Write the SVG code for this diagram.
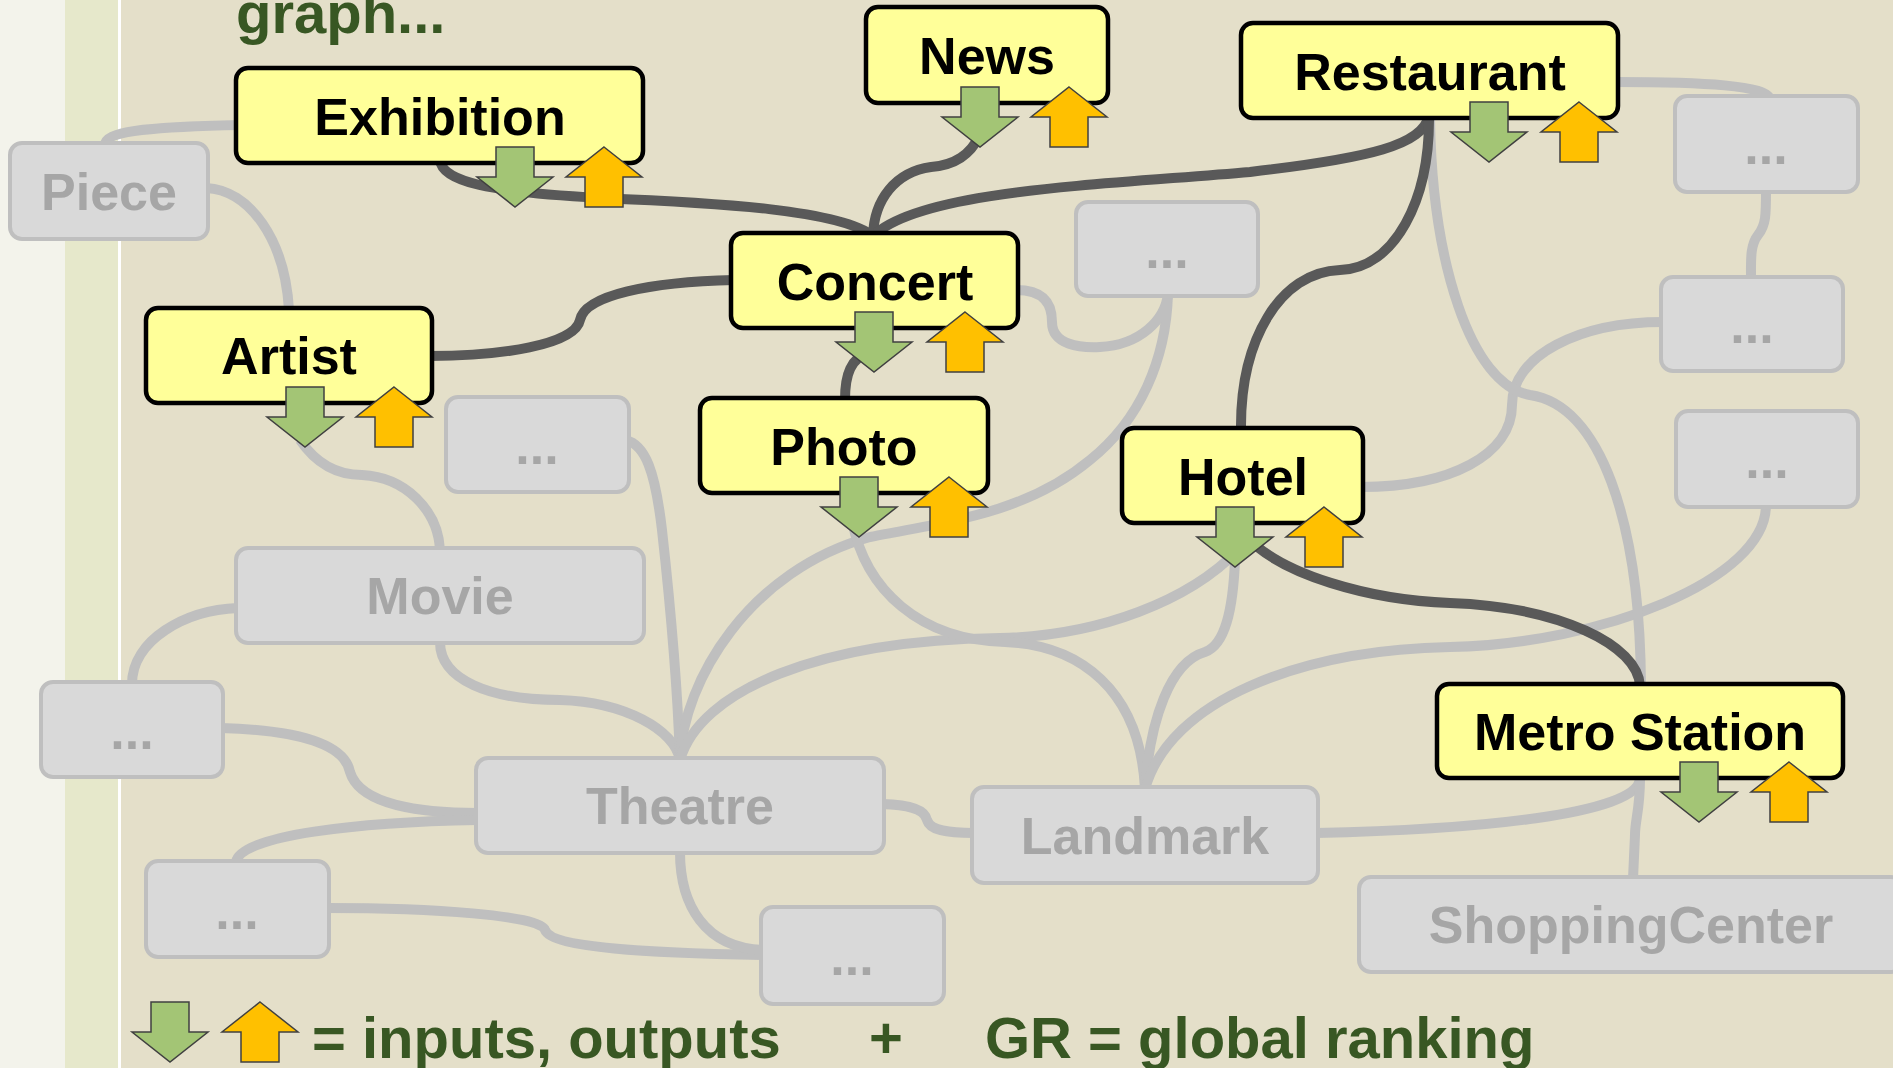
<svg xmlns="http://www.w3.org/2000/svg" width="1893" height="1068" viewBox="0 0 1893 1068">
<defs>
<style>
.lbl{font-family:"Liberation Sans",Arial,sans-serif;font-weight:bold;font-size:52px;text-anchor:middle}
.hot rect{fill:#FFFF99;stroke:#000000;stroke-width:4.5}
.hot text{fill:#000000}
.dim rect{fill:#D9D9D9;stroke:#BFBFBF;stroke-width:4}
.dim text{fill:#A6A6A6}
.gl{fill:none;stroke:#BFBFBF;stroke-width:10}
.dl{fill:none;stroke:#595959;stroke-width:10}
.in{fill:#A3C575;stroke:#404040;stroke-width:1.5}
.out{fill:#FFC000;stroke:#404040;stroke-width:1.5}
.cap{font-family:"Liberation Sans",Arial,sans-serif;font-weight:bold;font-size:58px;fill:#385723}
</style>
<path id="dn" d="M-19,0H19V30H38L0,60L-38,30H-19Z"/>
<path id="up" d="M0,0L38,30H19V60H-19V30H-38Z"/>
</defs>

<g id="background">
<rect width="1893" height="1068" fill="#E4DFC9"/>
<rect width="65" height="1068" fill="#F3F3EB"/>
<rect x="65" width="53" height="1068" fill="#E6E8CB"/>
<rect x="118" width="3" height="1068" fill="#FFFFFF"/>
</g>

<text id="title" class="cap" x="236" y="33">graph...</text>

<g id="connectors">
<path class="gl" d="M105,145 C105,132 140,127 240,125"/>
<path class="gl" d="M206,188 C250,190 285,240 289,310"/>
<path class="gl" d="M300,440 C315,462 335,475 362,475 C405,477 438,510 440,550"/>
<path class="gl" d="M238,608 C185,610 132,640 132,684"/>
<path class="gl" d="M440,642 C440,680 490,700 560,700 C625,702 675,730 680,760"/>
<path class="gl" d="M626,440 C645,445 655,470 662,530 C672,620 678,700 680,760"/>
<path class="gl" d="M221,728 C300,730 345,745 350,772 C360,805 420,813 478,813"/>
<path class="gl" d="M236,862 C240,835 360,822 478,820"/>
<path class="gl" d="M327,908 C430,908 540,915 545,930 C552,948 650,953 763,955"/>
<path class="gl" d="M680,852 C680,905 705,948 763,950"/>
<path class="gl" d="M882,804 C912,805 925,810 927,820 C930,830 945,833 974,833"/>
<path class="gl" d="M1316,833 C1470,830 1640,815 1640,778"/>
<path class="gl" d="M1640,778 C1640,810 1635,820 1635,835 L1633,879"/>
<path class="gl" d="M680,760 C683,680 750,570 870,537 C960,520 1030,510 1090,460 C1140,420 1166,360 1168,294"/>
<path class="gl" d="M680,760 C700,690 820,640 1000,638 C1100,636 1190,600 1238,550"/>
<path class="gl" d="M852,520 C865,590 920,640 1005,642 C1080,645 1140,690 1145,789"/>
<path class="gl" d="M1235,560 C1233,610 1225,645 1205,652 C1170,662 1150,720 1145,789"/>
<path class="gl" d="M1145,789 C1170,700 1300,650 1450,647 C1600,644 1766,580 1766,505"/>
<path class="gl" d="M1361,487 C1450,487 1512,455 1512,405 C1512,355 1580,322 1663,322"/>
<path class="gl" d="M1430,118 C1432,260 1470,385 1530,395 C1600,405 1640,520 1641,686"/>
<path class="gl" d="M1616,82 C1700,82 1770,85 1770,100"/>
<path class="gl" d="M1766,190 C1766,215 1766,225 1758,235 C1750,245 1751,260 1751,279"/>
<path class="gl" d="M1016,290 C1045,290 1052,305 1052,322 C1052,345 1080,348 1100,347 C1140,345 1165,320 1168,294"/>
<path class="dl" d="M440,160 C442,182 490,192 600,198 C720,203 840,210 873,236"/>
<path class="dl" d="M980,135 C970,155 955,165 931,167 C895,172 874,200 873,236"/>
<path class="dl" d="M1429,115 C1424,145 1370,158 1250,172 C1100,185 920,190 873,236"/>
<path class="dl" d="M1429,115 C1430,200 1395,268 1340,270 C1280,272 1240,340 1241,430"/>
<path class="dl" d="M430,356 C500,356 575,345 580,320 C585,295 650,282 734,280"/>
<path class="dl" d="M872,350 C850,358 845,375 845,400"/>
<path class="dl" d="M1245,535 C1280,575 1370,600 1450,603 C1560,607 1638,645 1640,686"/>
</g>

<g id="n-piece" class="dim"><rect x="10" y="143" width="198" height="96" rx="12"/><text class="lbl" x="109" y="210">Piece</text></g>
<g id="n-dots1" class="dim"><rect x="1675" y="96" width="183" height="96" rx="12"/><text class="lbl" x="1766" y="164">...</text></g>
<g id="n-dots2" class="dim"><rect x="1076" y="202" width="182" height="94" rx="12"/><text class="lbl" x="1167" y="268">...</text></g>
<g id="n-dots3" class="dim"><rect x="1661" y="277" width="182" height="94" rx="12"/><text class="lbl" x="1752" y="343">...</text></g>
<g id="n-dots4" class="dim"><rect x="1676" y="411" width="182" height="96" rx="12"/><text class="lbl" x="1767" y="478">...</text></g>
<g id="n-dots5" class="dim"><rect x="446" y="397" width="183" height="95" rx="12"/><text class="lbl" x="537" y="464">...</text></g>
<g id="n-movie" class="dim"><rect x="236" y="548" width="408" height="95" rx="12"/><text class="lbl" x="440" y="614">Movie</text></g>
<g id="n-dots6" class="dim"><rect x="41" y="682" width="182" height="95" rx="12"/><text class="lbl" x="132" y="749">...</text></g>
<g id="n-theatre" class="dim"><rect x="476" y="758" width="408" height="95" rx="12"/><text class="lbl" x="680" y="824">Theatre</text></g>
<g id="n-dots7" class="dim"><rect x="146" y="861" width="183" height="96" rx="12"/><text class="lbl" x="237" y="929">...</text></g>
<g id="n-dots8" class="dim"><rect x="761" y="907" width="183" height="97" rx="12"/><text class="lbl" x="852" y="975">...</text></g>
<g id="n-landmark" class="dim"><rect x="972" y="787" width="346" height="96" rx="12"/><text class="lbl" x="1145" y="854">Landmark</text></g>
<g id="n-shopping" class="dim"><rect x="1359" y="877" width="544" height="95" rx="12"/><text class="lbl" x="1631" y="943">ShoppingCenter</text></g>

<g id="n-exhibition" class="hot"><rect x="236" y="68" width="407" height="95" rx="12"/><text class="lbl" x="440" y="135">Exhibition</text><use href="#dn" class="in" x="515" y="147"/><use href="#up" class="out" x="604" y="147"/></g>
<g id="n-news" class="hot"><rect x="866" y="7" width="242" height="96" rx="12"/><text class="lbl" x="987" y="74">News</text><use href="#dn" class="in" x="980" y="87"/><use href="#up" class="out" x="1069" y="87"/></g>
<g id="n-restaurant" class="hot"><rect x="1241" y="23" width="377" height="95" rx="12"/><text class="lbl" x="1430" y="90">Restaurant</text><use href="#dn" class="in" x="1489" y="102"/><use href="#up" class="out" x="1579" y="102"/></g>
<g id="n-concert" class="hot"><rect x="731" y="233" width="287" height="95" rx="12"/><text class="lbl" x="875" y="300">Concert</text><use href="#dn" class="in" x="874" y="312"/><use href="#up" class="out" x="965" y="312"/></g>
<g id="n-artist" class="hot"><rect x="146" y="308" width="286" height="95" rx="12"/><text class="lbl" x="289" y="374">Artist</text><use href="#dn" class="in" x="305" y="387"/><use href="#up" class="out" x="394" y="387"/></g>
<g id="n-photo" class="hot"><rect x="700" y="398" width="288" height="95" rx="12"/><text class="lbl" x="844" y="465">Photo</text><use href="#dn" class="in" x="859" y="477"/><use href="#up" class="out" x="949" y="477"/></g>
<g id="n-hotel" class="hot"><rect x="1122" y="428" width="241" height="95" rx="12"/><text class="lbl" x="1243" y="495">Hotel</text><use href="#dn" class="in" x="1235" y="507"/><use href="#up" class="out" x="1324" y="507"/></g>
<g id="n-metro" class="hot"><rect x="1437" y="684" width="406" height="94" rx="12"/><text class="lbl" x="1640" y="750">Metro Station</text><use href="#dn" class="in" x="1699" y="762"/><use href="#up" class="out" x="1789" y="762"/></g>

<g id="legend">
<use href="#dn" class="in" x="170" y="1002"/>
<use href="#up" class="out" x="260" y="1002"/>
<text class="cap" x="312" y="1058">= inputs, outputs</text>
<text class="cap" x="886" y="1058" text-anchor="middle">+</text>
<text class="cap" x="985" y="1058">GR = global ranking</text>
</g>
</svg>
